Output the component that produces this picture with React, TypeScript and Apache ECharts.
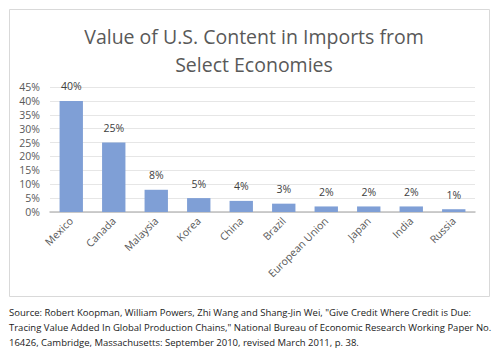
import React, { useEffect, useRef } from "react";
import * as echarts from "echarts";

const categories = ["Mexico", "Canada", "Malaysia", "Korea", "China", "Brazil", "European Union", "Japan", "India", "Russia"];
const values = [40, 25, 8, 5, 4, 3, 2, 2, 2, 1];
const titleText = "Value of U.S. Content in Imports from\nSelect Economies";
const sourceLines = [
  "Source: Robert Koopman, William Powers, Zhi Wang and Shang-Jin Wei, \"Give Credit Where Credit is Due:",
  "Tracing Value Added In Global Production Chains,\" National Bureau of Economic Research Working Paper No.",
  "16426, Cambridge, Massachusetts: September 2010, revised March 2011, p. 38.",
];

const FONT = "'Open Sans', 'Noto Sans', sans-serif";

export default function App() {
  const ref = useRef<HTMLDivElement>(null);
  useEffect(() => {
    document.body.style.margin = "0";
    const chart = echarts.init(ref.current!, null, { renderer: "svg" });
    chart.setOption({
      animation: false,
      backgroundColor: "#ffffff",
      title: {
        text: titleText,
        left: 249,
        textAlign: "center",
        top: 17,
        textStyle: { fontFamily: FONT, fontSize: 19.5, fontWeight: "normal", color: "#595959", lineHeight: 28 },
      },
      grid: { left: 50, right: 27, top: 87, bottom: 145, containLabel: false },
      xAxis: {
        type: "category",
        data: categories,
        axisLine: { lineStyle: { color: "#bfbfbf", width: 1.5 } },
        axisTick: { show: false },
        axisLabel: { rotate: 45, color: "#595959", fontFamily: FONT, fontSize: 10.5, interval: 0, margin: 7 },
      },
      yAxis: {
        type: "value",
        min: 0,
        max: 45,
        interval: 5,
        axisLine: { show: false },
        axisTick: { show: false },
        splitLine: { lineStyle: { color: "#e6e6e6" } },
        axisLabel: { formatter: "{value}%", color: "#595959", fontFamily: FONT, fontSize: 10.5, margin: 10 },
      },
      series: [
        {
          type: "bar",
          data: values,
          barWidth: "55%",
          itemStyle: { color: "#7f9fd6" },
          label: {
            show: true,
            position: "top",
            distance: 9,
            formatter: "{c}%",
            color: "#404040",
            fontFamily: FONT,
            fontSize: 10.5,
          },
        },
      ],
      graphic: [
        {
          type: "rect",
          shape: { x: 9.5, y: 9.5, width: 480, height: 287 },
          style: { fill: "none", stroke: "#d9d9d9", lineWidth: 1 },
          silent: true,
        },
        ...sourceLines.map((t, i) => ({
          type: "text",
          left: 9,
          top: 307 + i * 15,
          style: { text: t, fill: "#1a1a1a", font: `9.5px ${FONT}` },
        })),
      ],
    });
    return () => chart.dispose();
  }, []);
  return <div ref={ref} style={{ width: 502, height: 357 }} />;
}
